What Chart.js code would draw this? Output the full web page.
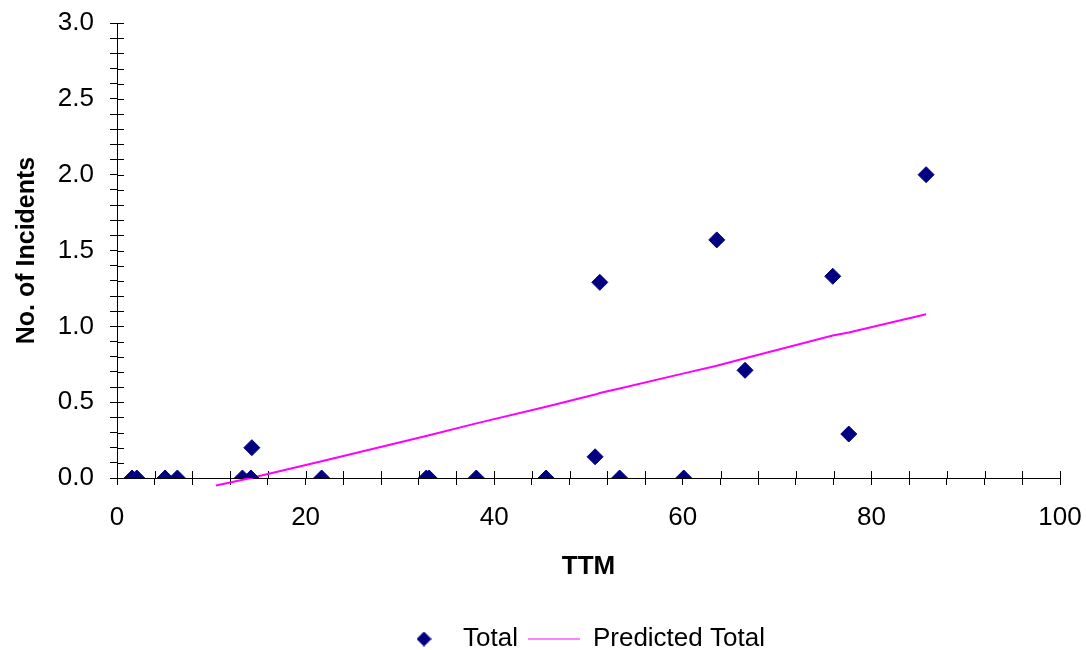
<!DOCTYPE html>
<html>
<head>
<meta charset="utf-8">
<script src="https://cdn.jsdelivr.net/npm/chart.js@4"></script>
<style>
  html, body { margin: 0; padding: 0; background: #fff; }
  #wrap { width: 1086px; height: 650px; }
</style>
</head>
<body>
<div id="wrap"><canvas id="incidentChart"></canvas></div>
<script>
// observed points
const ttm = [1.6, 2.1, 5.1, 6.4, 13.3, 14.2, 14.3, 21.7, 32.8, 33.1, 38.1, 45.5, 50.7, 51.2, 53.3, 60.1, 63.6, 66.6, 75.9, 77.6, 85.8];
const incidents = [0, 0, 0, 0, 0, 0, 0.2, 0, 0, 0, 0, 0, 0.14, 1.29, 0, 0, 1.57, 0.71, 1.33, 0.29, 2.0];

// predicted line
const predTtm = [10.5, 14.2, 21.7, 33.0, 38.1, 45.5, 50.7, 51.2, 53.3, 60.1, 63.6, 66.6, 75.9, 77.6, 85.8];
const predTotal = [-0.05, 0.0, 0.11, 0.28, 0.36, 0.47, 0.55, 0.56, 0.59, 0.69, 0.74, 0.79, 0.94, 0.96, 1.08];

const xLabels = [0, 20, 40, 60, 80, 100];
const yLabels = [0, 0.5, 1.0, 1.5, 2.0, 2.5, 3.0];

const FONT = 'Liberation Sans, Arial, sans-serif';
const NAVY = '#000080';
const MAGENTA = '#FF00FF';

function toPoints(xs, ys) {
    return xs.map((x, i) => ({ x: x, y: ys[i] }));
}

// small diamond used as the legend symbol (keeps its size when the box is wide)
function diamondIcon(size) {
    const c = document.createElement('canvas');
    c.width = size;
    c.height = size;
    const g = c.getContext('2d');
    const h = size / 2;
    g.fillStyle = NAVY;
    g.beginPath();
    g.moveTo(h, 0);
    g.lineTo(size, h);
    g.lineTo(h, size);
    g.lineTo(0, h);
    g.closePath();
    g.fill();
    return c;
}
const legendDiamond = diamondIcon(15);

// ticks cross the axis line: chart.js draws the outer half, this draws the inner half
const innerTicks = {
    id: 'innerTicks',
    beforeDatasetsDraw(chart) {
        const { ctx, chartArea, scales } = chart;
        const len = 7;
        ctx.save();
        ctx.strokeStyle = '#000';
        ctx.lineWidth = 1;
        ctx.beginPath();
        scales.y.ticks.forEach(t => {
            const py = Math.round(scales.y.getPixelForValue(t.value)) + 0.5;
            ctx.moveTo(chartArea.left, py);
            ctx.lineTo(chartArea.left + len, py);
        });
        scales.x.ticks.forEach(t => {
            const px = Math.round(scales.x.getPixelForValue(t.value)) + 0.5;
            ctx.moveTo(px, chartArea.bottom);
            ctx.lineTo(px, chartArea.bottom - len);
        });
        ctx.stroke();
        ctx.restore();
    }
};

// legend sits a bit right of centre and lower than chart.js puts it
const placeLegend = {
    id: 'placeLegend',
    afterLayout(chart) {
        const lg = chart.legend;
        const dx = 388 - lg.left;
        const dy = 616 - lg.top;
        lg.left += dx; lg.right += dx;
        lg.top += dy; lg.bottom += dy;
    }
};

new Chart(document.getElementById('incidentChart'), {
    type: 'scatter',
    data: {
        datasets: [{
            label: 'Total',
            data: toPoints(ttm, incidents),
            pointStyle: 'rectRot',
            pointRadius: 8,
            pointHoverRadius: 8,
            backgroundColor: NAVY,
            borderColor: NAVY,
            borderWidth: 1
        }, {
            label: 'Predicted Total',
            data: toPoints(predTtm, predTotal),
            showLine: true,
            pointRadius: 0,
            pointStyle: 'line',
            borderColor: MAGENTA,
            backgroundColor: MAGENTA,
            borderWidth: 2,
            clip: { left: 2, top: 2, right: 2, bottom: 12 }
        }]
    },
    options: {
        responsive: true,
        maintainAspectRatio: false,
        animation: false,
        layout: { padding: { top: 23, right: 26, left: 0, bottom: 0 } },
        plugins: {
            tooltip: { enabled: false },
            legend: {
                position: 'bottom',
                align: 'start',
                labels: {
                    usePointStyle: true,
                    pointStyleWidth: 52,
                    boxHeight: 9,
                    padding: 10,
                    color: '#000',
                    font: { family: FONT, size: 26 },
                    generateLabels(chart) {
                        const items = Chart.defaults.plugins.legend.labels.generateLabels(chart);
                        items[0].pointStyle = legendDiamond;
                        items[1].lineWidth = 1;
                        return items;
                    }
                }
            }
        },
        scales: {
            x: {
                type: 'linear',
                min: 0,
                max: 100,
                afterFit(scale) {
                    scale.height = 126;
                    scale.paddingLeft = 0;
                    scale.paddingRight = 0;
                },
                border: { color: '#000', width: 1 },
                grid: { drawOnChartArea: false, drawTicks: true, tickLength: 7, color: '#000' },
                ticks: {
                    stepSize: 4,
                    autoSkip: false,
                    maxRotation: 0,
                    padding: 17,
                    color: '#000',
                    font: { family: FONT, size: 26 },
                    callback: v => (xLabels.includes(v) ? String(v) : '')
                },
                title: {
                    display: true,
                    text: 'TTM',
                    color: '#000',
                    font: { family: FONT, size: 26, weight: 'bold' },
                    padding: { top: 0, bottom: 22 }
                }
            },
            y: {
                type: 'linear',
                min: 0,
                max: 3,
                afterFit(scale) {
                    scale.width = 117;
                    scale.paddingTop = 0;
                    scale.paddingBottom = 0;
                },
                border: { color: '#000', width: 1 },
                grid: { drawOnChartArea: false, drawTicks: true, tickLength: 7, color: '#000' },
                ticks: {
                    stepSize: 0.1,
                    autoSkip: false,
                    padding: 16,
                    color: '#000',
                    font: { family: FONT, size: 26 },
                    callback: v => {
                        const r = Math.round(v * 10) / 10;
                        return yLabels.some(l => Math.abs(l - r) < 1e-6) ? r.toFixed(1) : '';
                    }
                },
                title: {
                    display: true,
                    text: 'No. of Incidents',
                    color: '#000',
                    font: { family: FONT, size: 25, weight: 'bold' },
                    padding: { top: 12, bottom: 0 }
                }
            }
        }
    },
    plugins: [innerTicks, placeLegend]
});
</script>
</body>
</html>
